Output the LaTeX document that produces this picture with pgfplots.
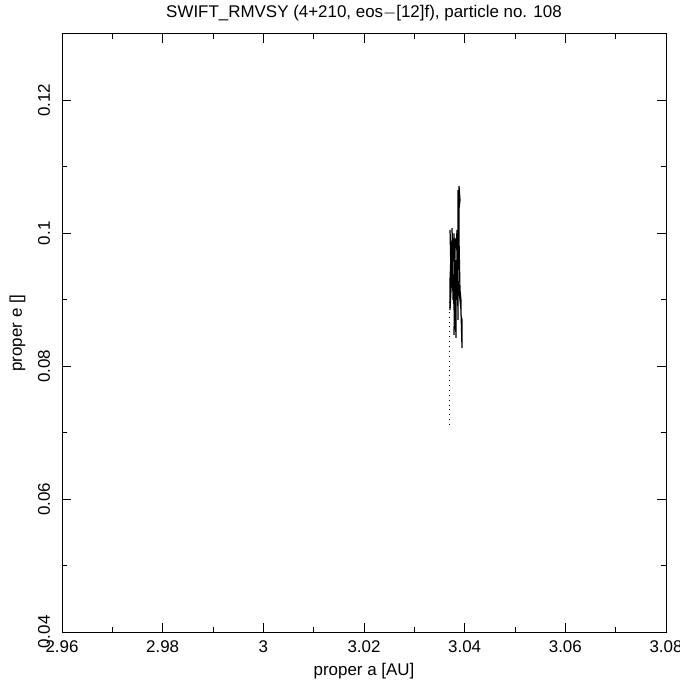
\documentclass[border=0pt]{standalone}
\usepackage{fontspec}
\setmainfont{Liberation Sans}
\usepackage{pgfplots}
\pgfplotsset{compat=1.18}
\begin{document}
\begin{tikzpicture}
\begin{axis}[
  name=ax,
  scale only axis,
  width=302bp, height=299bp,
  xmin=2.96, xmax=3.08, ymin=0.04, ymax=0.13,
  xtick={2.96,2.98,3,3.02,3.04,3.06,3.08},
  xticklabels={2.96,2.98,3,3.02,3.04,3.06,3.08},
  ytick={0.04,0.06,0.08,0.1,0.12},
  yticklabels={0.04,0.06,0.08,0.1,0.12},
  minor xtick={2.97,2.99,3.01,3.03,3.05,3.07},
  minor ytick={0.05,0.07,0.09,0.11},
  tick align=inside, tick pos=both,
  major tick length=4.5bp, minor tick length=2.5bp,
  tick style={black, line width=0.5pt},
  axis line style={line width=0.5pt},
  ticklabel style={font=\fontsize{8.5}{10}\selectfont},
  xticklabel style={yshift=-1bp},
  yticklabel style={xshift=-2.5bp, rotate=90, anchor=south},
  xlabel={proper a [AU]}, ylabel={proper e []},
  label style={font=\fontsize{8.5}{10}\selectfont},
  xlabel style={yshift=1.5bp},
  ylabel style={yshift=-0.5bp},
  title={SWIFT\_RMVSY (4+210, eos$-$[12]f), particle no. 108},
  title style={font=\fontsize{8.5}{10}\selectfont, yshift=-3bp},
  scaled ticks=false,
]
\addplot[black, line width=0.45pt, dotted] coordinates {
(3.03689,0.07115) (3.03689,0.08997)
};
\addplot[black, line width=0.6pt] coordinates {
(3.03709,0.08997) (3.03729,0.09599) (3.03709,0.10050) (3.03729,0.09373)
(3.03749,0.09900) (3.03768,0.08997) (3.03749,0.10080) (3.03788,0.08846)
(3.03808,0.09749) (3.03788,0.08470) (3.03808,0.08997) (3.03828,0.08425)
(3.03828,0.09599) (3.03848,0.08997) (3.03848,0.09900) (3.03868,0.08696)
(3.03868,0.10652) (3.03888,0.09599) (3.03888,0.10712) (3.03907,0.10502)
(3.03878,0.10300) (3.03898,0.10600) (3.03878,0.10150) (3.03888,0.09900)
(3.03907,0.09147) (3.03927,0.08997) (3.03927,0.08771) (3.03947,0.08696)
(3.03947,0.08274) (3.03927,0.08846) (3.03907,0.08997) (3.03868,0.09298)
(3.03848,0.10050) (3.03828,0.09749) (3.03808,0.09900) (3.03768,0.09824)
(3.03749,0.09448) (3.03729,0.09147) (3.03709,0.08846) (3.03709,0.09298)
(3.03729,0.09700) (3.03768,0.09500) (3.03788,0.10000) (3.03808,0.09300)
};
\end{axis}
\pgfresetboundingbox
\path ([shift={(-31bp,-24bp)}]ax.south west) rectangle ([shift={(7bp,17bp)}]ax.north east);
\end{tikzpicture}
\end{document}
